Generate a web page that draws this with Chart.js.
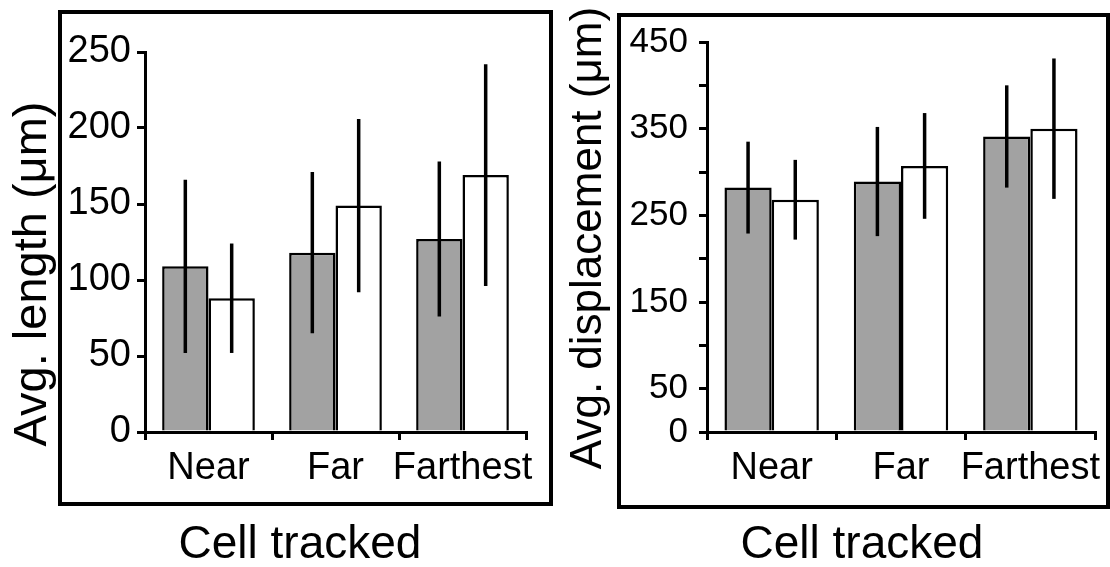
<!DOCTYPE html>
<html>
<head>
<meta charset="utf-8">
<script src="https://cdn.jsdelivr.net/npm/chart.js@4.4.1/dist/chart.umd.min.js"></script>
<style>
  body { margin: 0; background: #fff; }
  canvas { position: absolute; top: 0; }
  #lengthChart { left: 0; }
  #dispChart { left: 555px; }
</style>
</head>
<body>
<canvas id="lengthChart" width="555" height="567"></canvas>
<canvas id="dispChart" width="555" height="567"></canvas>
<script>
const categories = ['Near', 'Far', 'Farthest'];

// left panel: average length
const lengthGray = [109, 118, 127];
const lengthGrayErr = [57, 53, 51];
const lengthWhite = [88, 149, 169];
const lengthWhiteErr = [36, 57, 73];
const lengthTicks = [0, 50, 100, 150, 200, 250];

// right panel: average displacement
const dispGray = [282, 289, 341];
const dispGrayErr = [53, 63, 59];
const dispWhite = [268, 307, 350];
const dispWhiteErr = [46, 61, 81];
const dispTicks = [0, 50, 150, 250, 350, 450];

const FONT = '"Liberation Sans", Arial, sans-serif';

const errorBars = {
  id: 'errorBars',
  afterDatasetsDraw(chart) {
    const ctx = chart.ctx;
    const y = chart.scales.y;
    ctx.save();
    ctx.strokeStyle = '#000';
    ctx.lineWidth = 3.5;
    chart.data.datasets.forEach((ds, di) => {
      chart.getDatasetMeta(di).data.forEach((bar, i) => {
        const v = ds.data[i], e = ds.errors[i];
        ctx.beginPath();
        ctx.moveTo(bar.x, y.getPixelForValue(v + e));
        ctx.lineTo(bar.x, y.getPixelForValue(v - e));
        ctx.stroke();
      });
    });
    ctx.restore();
  }
};

const panel = {
  id: 'panel',
  beforeDraw(chart, args, opts) {
    const ctx = chart.ctx;
    const f = opts.frame;
    ctx.save();
    ctx.strokeStyle = '#000';
    ctx.lineWidth = 4;
    ctx.strokeRect(f[0], f[1], f[2], f[3]);
    ctx.restore();
  },
  afterDraw(chart, args, opts) {
    const ctx = chart.ctx;
    ctx.save();
    ctx.fillStyle = '#000';
    ctx.font = opts.yTitleSize + 'px ' + FONT;
    ctx.textAlign = 'center';
    ctx.textBaseline = 'middle';
    ctx.translate(opts.yTitlePos[0], opts.yTitlePos[1]);
    ctx.rotate(-Math.PI / 2);
    ctx.fillText(opts.yTitle, 0, 0);
    ctx.restore();
    ctx.save();
    ctx.fillStyle = '#000';
    ctx.font = '46px ' + FONT;
    ctx.textAlign = 'center';
    ctx.textBaseline = 'alphabetic';
    ctx.fillText(opts.xTitle, opts.xTitlePos[0], opts.xTitlePos[1]);
    ctx.restore();
  }
};

function makeChart(id, gray, grayErr, white, whiteErr, max, labels, yFont, p) {
  return new Chart(document.getElementById(id), {
    type: 'bar',
    data: {
      labels: categories,
      datasets: [
        { data: gray, errors: grayErr, backgroundColor: '#a2a2a2', borderColor: '#000', borderWidth: 2.5 },
        { data: white, errors: whiteErr, backgroundColor: '#fff', borderColor: '#000', borderWidth: 2.5 }
      ]
    },
    options: {
      responsive: false,
      animation: false,
      datasets: { bar: { categoryPercentage: 0.73, barPercentage: 1 } },
      layout: { padding: p.padding },
      plugins: {
        legend: { display: false },
        tooltip: { enabled: false },
        panel: p.panel
      },
      scales: {
        x: {
          afterFit: (s) => { s.height = p.xHeight; },
          grid: { drawOnChartArea: false, color: '#000', lineWidth: 3, tickLength: 8 },
          border: { display: true, color: '#000', width: 3 },
          ticks: {
            color: '#000',
            font: { family: FONT, size: 38 },
            padding: 6,
            autoSkip: false,
            maxRotation: 0,
            minRotation: 0
          }
        },
        y: {
          min: 0,
          max: max,
          afterFit: (s) => { s.width = p.yWidth; },
          afterBuildTicks: (s) => {
            const t = [];
            for (let v = 0; v <= max; v += 50) t.push({ value: v });
            s.ticks = t;
          },
          grid: { drawOnChartArea: false, color: '#000', lineWidth: 3, tickLength: 8 },
          border: { display: true, color: '#000', width: 3 },
          ticks: {
            color: '#000',
            font: { family: FONT, size: yFont },
            padding: p.yPad,
            autoSkip: false,
            callback: (v) => labels.includes(v) ? String(v) : ''
          }
        }
      }
    },
    plugins: [errorBars, panel]
  });
}

makeChart('lengthChart', lengthGray, lengthGrayErr, lengthWhite, lengthWhiteErr, 250, lengthTicks, 38, {
  padding: { left: 0, right: 29, top: 52, bottom: 0 },
  xHeight: 135,
  yWidth: 145,
  yPad: 6,
  panel: {
    frame: [60, 12, 491, 492],
    yTitle: 'Avg. length (\u03bcm)',
    yTitleSize: 47,
    yTitlePos: [33, 274],
    xTitle: 'Cell tracked',
    xTitlePos: [300, 558]
  }
});

makeChart('dispChart', dispGray, dispGrayErr, dispWhite, dispWhiteErr, 450, dispTicks, 35, {
  padding: { left: 0, right: 15, top: 42, bottom: 0 },
  xHeight: 135,
  yWidth: 152,
  yPad: 11,
  panel: {
    frame: [64, 15, 489, 492],
    yTitle: 'Avg. displacement (\u03bcm)',
    yTitleSize: 44,
    yTitlePos: [34, 238],
    xTitle: 'Cell tracked',
    xTitlePos: [307, 558]
  }
});
</script>
</body>
</html>
